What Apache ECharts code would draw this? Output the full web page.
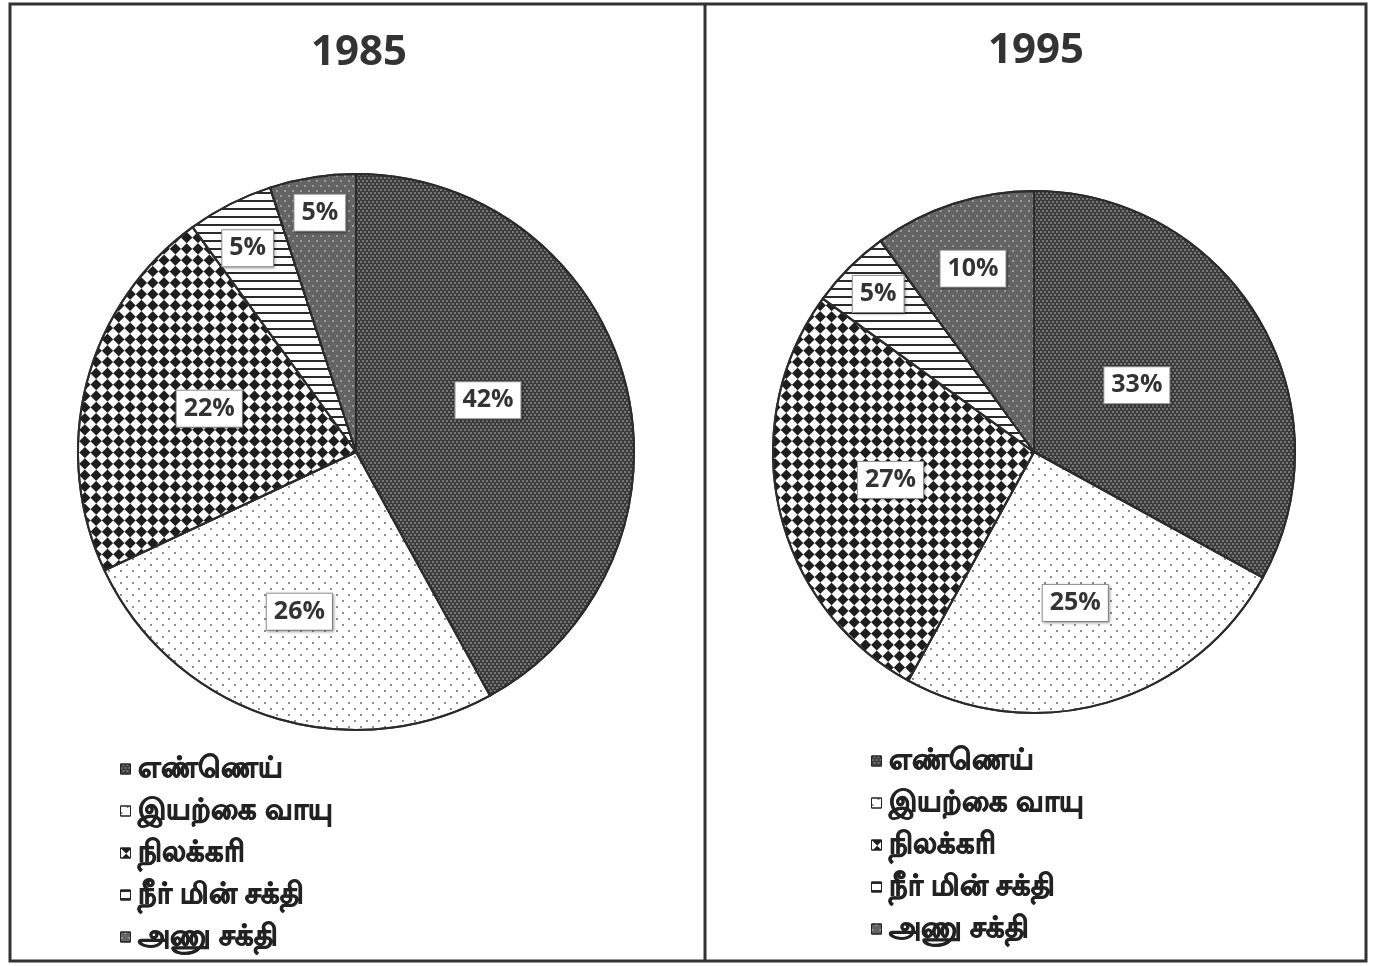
<!DOCTYPE html>
<html>
<head>
<meta charset="utf-8">
<script src="https://cdn.jsdelivr.net/npm/echarts@6/dist/echarts.min.js"></script>
<style>html,body{margin:0;padding:0;background:#fff}#c{width:1384px;height:966px}</style>
</head>
<body>
<div id="c"></div>
<script>
// ---- data ----
const categories = ['எண்ணெய்', 'இயற்கை வாயு', 'நிலக்கரி', 'நீர் மின் சக்தி', 'அணு சக்தி'];
const values1985 = [42, 26, 22, 5, 5];
const values1995 = [33, 25, 27, 5, 10];
const years = ['1985', '1995'];

// ---- layout / style ----
// label placement: fraction of radius and angle offset (deg) from slice middle
const pies = [
  { cx: 356, cy: 452, r: 278, labelFrac: [0.51, 0.61, 0.55, 0.83, 0.87], labelRot: [-7, 1.5, 2, -1, 0.4] },
  { cx: 1034, cy: 452, r: 261, labelFrac: [0.47, 0.60, 0.56, 0.85, 0.74], labelRot: [-2.4, 0.9, 1.6, 0.4, -0.4] }
];
const fills = ['#3c3c3c', '#ffffff', '#ffffff', '#ffffff', '#646464'];
const decals = [
  { symbol: 'circle', color: 'rgba(255,255,255,0.45)', symbolSize: 0.9, dashArrayX: [[2, 2], [0, 2, 2, 0]], dashArrayY: [2, 1] },
  { symbol: 'circle', color: '#555', symbolSize: 0.9, dashArrayX: [[2, 10], [0, 6, 2, 4]], dashArrayY: [2, 4] },
  { symbol: 'rect', color: '#1e1e1e', symbolSize: 1, rotation: Math.PI / 4, dashArrayX: [[8, 8], [0, 8, 8, 0]], dashArrayY: [8, 0] },
  { symbol: 'rect', color: '#2a2a2a', symbolSize: 1, dashArrayX: [1, 0], dashArrayY: [2, 6] },
  { symbol: 'circle', color: 'rgba(255,255,255,0.8)', symbolSize: 0.8, dashArrayX: [[2, 6], [0, 4, 2, 2]], dashArrayY: [2, 3] }
];

function midAngles(vals) {
  const tot = vals.reduce((a, b) => a + b, 0);
  let acc = 0;
  return vals.map(v => { const m = (acc + v / 2) / tot * 2 * Math.PI; acc += v; return m; });
}

function makeSeries(vals, idx) {
  const p = pies[idx];
  return {
    type: 'pie',
    center: [p.cx, p.cy],
    radius: [0, p.r],
    startAngle: 90,
    clockwise: true,
    animation: false,
    silent: true,
    data: vals.map((v, i) => ({
      name: categories[i],
      value: v,
      itemStyle: { color: fills[i], decal: decals[i] }
    })),
    itemStyle: { borderColor: '#2b2b2b', borderWidth: 2 },
    label: {
      show: true,
      position: 'inside',
      formatter: '{c}%',
      fontFamily: 'Open Sans, sans-serif',
      fontWeight: 'bold',
      fontSize: 25,
      color: '#333',
      backgroundColor: '#fff',
      borderColor: '#999',
      borderWidth: 1,
      padding: [7, 7, 4, 7],
      shadowColor: 'rgba(0,0,0,0.35)',
      shadowBlur: 3,
      shadowOffsetX: 1,
      shadowOffsetY: 1
    },
    labelLine: { show: false },
    labelLayout: function (params) {
      const mids = midAngles(vals);
      const a = mids[params.dataIndex] + p.labelRot[params.dataIndex] * Math.PI / 180;
      const f = p.labelFrac[params.dataIndex];
      const tx = p.cx + f * p.r * Math.sin(a);
      const ty = p.cy - f * p.r * Math.cos(a);
      const lr = params.labelRect;
      return { dx: tx - (lr.x + lr.width / 2), dy: ty - (lr.y + lr.height / 2) };
    }
  };
}

const legendBase = {
  orient: 'vertical',
  itemWidth: 10,
  itemHeight: 10,
  itemGap: 12,
  icon: 'rect',
  selectedMode: false,
  itemStyle: { borderColor: '#222', borderWidth: 1 },
  textStyle: { fontSize: 29, lineHeight: 30, color: '#222', fontWeight: 'bold', textBorderColor: '#222', textBorderWidth: 0.9, padding: [0, 0, 0, 2] },
  data: categories
};

const chart = echarts.init(document.getElementById('c'), null, { renderer: 'canvas' });
chart.setOption({
  backgroundColor: '#fff',
  title: [
    { text: years[0], left: 354, top: 27, textAlign: 'center', textStyle: { fontFamily: 'Open Sans, sans-serif', fontSize: 42, fontWeight: 'bold', color: '#333' } },
    { text: years[1], left: 1031, top: 25, textAlign: 'center', textStyle: { fontFamily: 'Open Sans, sans-serif', fontSize: 42, fontWeight: 'bold', color: '#333' } }
  ],
  legend: [
    Object.assign({}, legendBase, { left: 115, top: 749 }),
    Object.assign({}, legendBase, { left: 866, top: 741 })
  ],
  graphic: [
    { type: 'rect', shape: { x: 10, y: 4, width: 1356, height: 957 }, style: { fill: 'none', stroke: '#333', lineWidth: 3 } },
    { type: 'line', shape: { x1: 705, y1: 4, x2: 705, y2: 961 }, style: { stroke: '#333', lineWidth: 3 } }
  ],
  series: [makeSeries(values1985, 0), makeSeries(values1995, 1)]
});
</script>
</body>
</html>
